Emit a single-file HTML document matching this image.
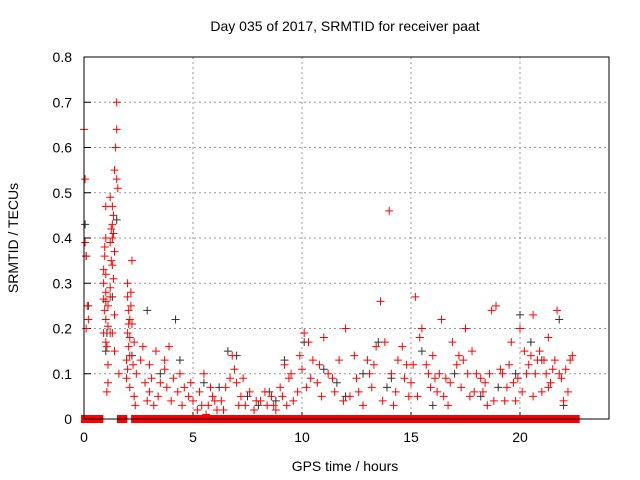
<!DOCTYPE html>
<html><head><meta charset="utf-8"><style>
body{margin:0;background:#fff}
svg{display:block;font-family:"Liberation Sans",sans-serif}
</style></head><body>
<svg id="chart" width="640" height="480">
<text x="345" y="31" font-size="14" text-anchor="middle">Day 035 of 2017, SRMTID for receiver paat</text>
<text transform="translate(18,238) rotate(-90)" font-size="14" text-anchor="middle">SRMTID / TECUs</text>
<text x="345" y="471" font-size="14" text-anchor="middle">GPS time / hours</text>
<g id="grid"></g><g id="ticks"></g><g id="marks"></g>
<rect x="84" y="57" width="525" height="362" fill="none" stroke="#000" stroke-width="1"/>
</svg>
<script>
const xTicks=[0,5,10,15,20];
const yTicks=[0,0.1,0.2,0.3,0.4,0.5,0.6,0.7,0.8];
const yTickLabels=["0","0.1","0.2","0.3","0.4","0.5","0.6","0.7","0.8"];
const zeroRuns=[[0,0.2],[0.45,0.75],[1.65,1.85],[2.3,11.9],[12.0,22.6]];
const blackPts=[[0.05,0.43],[0.1,0.36],[0.2,0.25],[1.3,0.27],[1.5,0.44],[1.0,0.15],[1.05,0.19],[2.9,0.24],[2.2,0.14],[4.2,0.22],[4.4,0.13],[5.5,0.08],[6.6,0.15],[7.0,0.14],[7.5,0.05],[8.0,0.03],[8.5,0.06],[9.2,0.13],[10.1,0.17],[11.0,0.11],[12.0,0.05],[13.5,0.17],[14.1,0.09],[15.5,0.15],[16.0,0.03],[17.0,0.1],[18.2,0.05],[19.0,0.07],[20.0,0.23],[20.5,0.17],[21.0,0.13],[21.8,0.22],[22.0,0.03],[19.8,0.1],[13.9,0.07],[12.8,0.1],[3.5,0.1],[6.2,0.07],[8.8,0.04],[11.6,0.08]];
const redPts=[[0,0.64],[0.05,0.53],[0.1,0.36],[0.05,0.39],[0.1,0.2],[0.2,0.22],[0.15,0.25],
[1.5,0.70],[1.5,0.64],[1.45,0.6],[1.4,0.55],[1.5,0.53],[1.55,0.51],[1.2,0.49],[1.0,0.47],[1.3,0.47],[1.35,0.45],[1.3,0.43],[1.25,0.42],[1.35,0.41],[1.0,0.4],[1.3,0.40],[1.2,0.39],[0.95,0.38],[1.4,0.37],[0.95,0.36],[1.25,0.35],[1.3,0.34],[0.9,0.33],[1.0,0.32],[1.35,0.31],[0.9,0.30],[1.2,0.29],[1.0,0.28],[0.9,0.265],[1.0,0.26],[1.2,0.27],[1.1,0.25],[0.95,0.24],[1.4,0.23],[1.0,0.22],[1.1,0.205],[0.9,0.19],[1.2,0.19],[1.3,0.19],[1.0,0.17],[1.05,0.16],[1.4,0.15],[1.1,0.12],[1.1,0.08],[1.05,0.06],[1.6,0.1],
[2.2,0.35],[2.0,0.3],[2.15,0.28],[2.0,0.27],[2.15,0.25],[2.05,0.24],[2.1,0.22],[2.05,0.21],[2.2,0.21],[2.0,0.19],[2.1,0.18],[2.3,0.17],[2.05,0.16],[2.1,0.14],[1.95,0.13],[2.25,0.12],[2.0,0.11],[2.4,0.1],[1.95,0.09],[2.1,0.07],[2.3,0.05],[2.35,0.03],[2.7,0.16],[2.6,0.13],[3.0,0.12],[3.3,0.15],[3.1,0.09],[3.5,0.08],[3.0,0.06],[2.9,0.04],[3.2,0.03],[3.7,0.11],[3.9,0.16],[3.7,0.13],[4.1,0.09],[4.3,0.06],[4.0,0.04],[4.5,0.03],[4.6,0.07],[4.8,0.05],[5.0,0.04],[5.2,0.02],[5.3,0.06],[5.5,0.1],[5.7,0.03],[5.6,0.01],[5.9,0.05],[6.1,0.02],[6.3,0.04],[6.5,0.07],[6.8,0.14],[6.9,0.11],[7.0,0.08],[7.2,0.05],[7.4,0.03],[7.6,0.06],[7.8,0.02],[8.1,0.04],[8.4,0.03],[8.6,0.05],[8.8,0.02],[9.0,0.07],[9.2,0.12],[9.4,0.09],[9.6,0.04],[9.8,0.06],[10.0,0.11],[10.1,0.19],[10.3,0.17],[10.5,0.13],[10.7,0.08],[11.0,0.18],[11.2,0.1],[11.5,0.06],[11.7,0.13],[12.0,0.2],[12.2,0.05],[12.5,0.09],[12.8,0.03],[13.0,0.13],[13.2,0.07],[13.4,0.16],[13.6,0.26],[13.8,0.17],[14.0,0.46],[14.1,0.1],[14.3,0.06],[14.6,0.16],[14.8,0.12],[15.0,0.08],[15.2,0.27],[15.4,0.18],[15.5,0.2],[15.8,0.1],[16.0,0.14],[16.2,0.06],[16.4,0.22],[16.6,0.09],[16.9,0.17],[17.1,0.12],[17.3,0.07],[17.5,0.2],[17.8,0.15],[18.0,0.1],[18.3,0.06],[18.5,0.03],[18.7,0.24],[18.9,0.25],[19.1,0.11],[19.4,0.07],[19.6,0.17],[19.8,0.04],[20.0,0.2],[20.2,0.15],[20.4,0.12],[20.6,0.23],[20.7,0.1],[20.9,0.15],[21.1,0.13],[21.3,0.18],[21.5,0.11],[21.7,0.24],[21.9,0.09],[22.1,0.11],[22.3,0.13],[22.4,0.14],[22.0,0.04],[21.0,0.06],
[15.7,0.12],[16.1,0.09],[16.5,0.05],[16.8,0.08],[17.2,0.14],[17.6,0.1],[17.9,0.06],[18.2,0.09],[18.6,0.1],[18.8,0.04],[19.2,0.1],[19.5,0.12],[19.9,0.09],[20.1,0.06],[20.3,0.1],[20.5,0.14],[20.8,0.13],[21.2,0.1],[21.4,0.08],[21.6,0.13],[21.8,0.1],[22.2,0.06],[13.1,0.1],[13.7,0.04],[14.4,0.13],[14.9,0.05],[12.4,0.14],[11.9,0.04],[10.9,0.05],[10.4,0.09],[9.9,0.14],[9.3,0.03],[15.3,0.05],[16.7,0.03],[19.3,0.04],[17.4,0.13],
[2.8,0.08],[3.4,0.05],[3.8,0.07],[4.4,0.1],[4.9,0.08],[5.4,0.03],[5.8,0.07],[6.0,0.04],[6.4,0.02],[6.7,0.09],[7.1,0.03],[7.3,0.09],[7.9,0.04],[8.3,0.06],[8.7,0.03],[9.1,0.05],[9.5,0.1],[10.2,0.07],[10.8,0.12],[11.4,0.09],[12.6,0.06],[13.3,0.12],[14.2,0.03],[14.7,0.09],[15.1,0.12],[15.9,0.07],[16.3,0.1],[17.7,0.05],[18.4,0.08],[19.7,0.08],[20.6,0.05],[21.3,0.07]];
const X=h=>84+h*21.8, Y=v=>419-v*452.5;
const NS="http://www.w3.org/2000/svg";
function mk(tag,attrs,parent){const e=document.createElementNS(NS,tag);for(const k in attrs)e.setAttribute(k,attrs[k]);document.getElementById(parent).appendChild(e);return e;}
xTicks.forEach(t=>{
  if(t>0){const g=mk('line',{x1:X(t),x2:X(t),y1:57,y2:419,stroke:'#999','stroke-dasharray':'2,3'},'grid');
  
  }
  const l=mk('text',{x:X(t),y:442,'font-size':14,'text-anchor':'middle'},'ticks');l.textContent=t;
  
  
  mk('line',{x1:X(t),x2:X(t),y1:419,y2:412,stroke:'#000'},'ticks');
});
yTicks.forEach((t,i)=>{
  if(t>0&&t<0.8){const g=mk('line',{x1:84,x2:609,y1:Y(t),y2:Y(t),stroke:'#999','stroke-dasharray':'2,3'},'grid');
  
  }
  const l=mk('text',{x:72,y:Y(t)+5,'font-size':14,'text-anchor':'end'},'ticks');l.textContent=yTickLabels[i];
  
  
  mk('line',{x1:84,x2:91,y1:Y(t),y2:Y(t),stroke:'#000'},'ticks');
});
function plus(h,v,c,name){const p=mk('path',{d:`M${X(h)-4},${Y(v)}h8M${X(h)},${Y(v)-4}v8`,stroke:c,'stroke-width':1,fill:'none'},'marks');
  
  }
blackPts.forEach(p=>plus(p[0],p[1],'#333','black-point'));
redPts.forEach(p=>plus(p[0],p[1],'#f00','red-point'));
zeroRuns.forEach(r=>{const e=mk('rect',{x:X(r[0])-3,y:415,width:X(r[1])-X(r[0])+6,height:8,fill:'#f00'},'marks');
  
  });
</script>
</body></html>
